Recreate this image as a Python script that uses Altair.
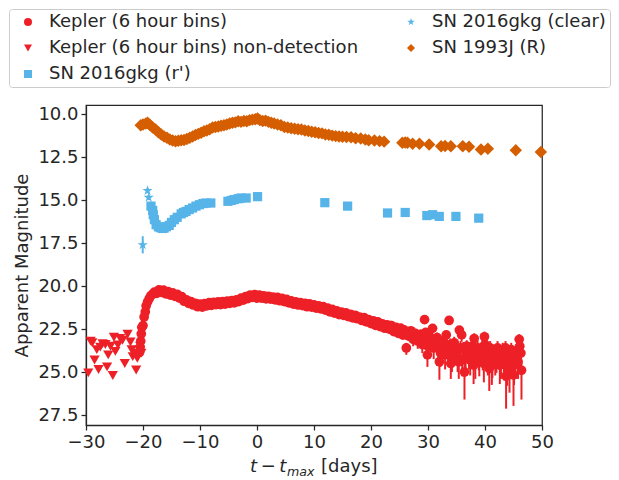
import altair as alt
import pandas as pd

# ---------------- data ----------------
# Kepler (6 hour bins) – smooth part (error bars smaller than markers)
kep_t = [-20.6, -20.5, -20.4, -20.3, -20.2, -20.0, -19.8, -19.6, -19.45, -19.2, -18.9, -18.6, -18.2, -17.8,
         -17.4, -17.0, -16.6, -16.2, -15.8, -15.4, -15.0, -14.6, -14.2, -13.8, -13.4, -13.0, -12.6, -12.2,
         -11.8, -11.4, -11.0, -10.6, -10.2, -9.8, -9.4, -9.0, -8.6, -8.2, -7.8, -7.4, -7.0, -6.6, -6.2,
         -5.8, -5.4, -5.0, -4.6, -4.2, -3.8, -3.4, -3.0, -2.6, -2.2, -1.8, -1.4, -1.0, -0.6, -0.2, 0.2,
         0.6, 1.0, 1.4, 1.8, 2.2, 2.6, 3.0, 3.4, 3.8, 4.2, 4.6, 5.0, 5.4, 5.8, 6.2, 6.6, 7.0, 7.4, 7.8,
         8.2, 8.6, 9.0, 9.4, 9.8, 10.2, 10.6, 11.0, 11.4, 11.8, 12.2, 12.6, 13.0, 13.4, 13.8, 14.2, 14.6,
         15.0, 15.4, 15.8, 16.2, 16.6, 17.0, 17.4, 17.8, 18.2, 18.6, 19.0, 19.4, 19.8, 20.2, 20.6, 21.0,
         21.4, 21.8, 22.2, 22.6, 23.0, 23.4, 23.8, 24.2, 24.6, 25.0, 25.4, 25.8]
kep_mag = [23.85, 23.55, 23.2, 22.78, 22.4, 22.3, 21.8, 21.5, 21.15, 20.92, 20.72, 20.55, 20.45, 20.38,
           20.3, 20.27, 20.3, 20.33, 20.38, 20.42, 20.45, 20.5, 20.52, 20.58, 20.66, 20.74, 20.82, 20.9,
           20.95, 21.0, 21.05, 21.08, 21.12, 21.15, 21.12, 21.08, 21.05, 21.02, 21.05, 21.0, 20.98, 21.02, 20.98,
           20.95, 20.98, 20.92, 20.9, 20.92, 20.88, 20.85, 20.8, 20.75, 20.72, 20.68, 20.62, 20.58, 20.55, 20.6, 20.62,
           20.58, 20.65, 20.63, 20.68, 20.65, 20.7, 20.72, 20.7, 20.75, 20.78, 20.8, 20.82, 20.88, 20.9, 20.95, 20.98, 21.0, 21.02, 21.05,
           21.05, 21.1, 21.12, 21.1, 21.15, 21.18, 21.2, 21.25, 21.22, 21.3, 21.32, 21.38, 21.42, 21.45, 21.5, 21.55, 21.58,
           21.6, 21.62, 21.65, 21.7, 21.72, 21.78, 21.75, 21.85, 21.9, 21.88, 21.95, 22.0, 22.05, 22.08, 22.12, 22.2,
           22.15, 22.3, 22.28, 22.35, 22.4, 22.3, 22.5, 22.45, 22.6, 22.52, 22.7, 22.55]

# Kepler (6 hour bins) – interleaved bins of the smooth part
kep2_t = [-18.0, -17.6, -17.2, -16.8, -16.4, -16.0, -15.6, -15.2, -14.8, -14.4,
          -14.0, -13.6, -13.2, -12.8, -12.4, -12.0, -11.6, -11.2, -10.8, -10.4,
          -10.0, -9.6, -9.2, -8.8, -8.4, -8.0, -7.6, -7.2, -6.8, -6.4,
          -6.0, -5.6, -5.2, -4.8, -4.4, -4.0, -3.6, -3.2, -2.8, -2.4,
          -2.0, -1.6, -1.2, -0.8, -0.4, 0.0, 0.4, 0.8, 1.2, 1.6,
          2.0, 2.4, 2.8, 3.2, 3.6, 4.0, 4.4, 4.8, 5.2, 5.6,
          6.0, 6.4, 6.8, 7.2, 7.6, 8.0, 8.4, 8.8, 9.2, 9.6,
          10.0, 10.4, 10.8, 11.2, 11.6, 12.0, 12.4, 12.8, 13.2, 13.6,
          14.0, 14.4, 14.8, 15.2, 15.6, 16.0, 16.4, 16.8, 17.2, 17.6,
          18.0, 18.4, 18.8, 19.2, 19.6, 20.0, 20.4, 20.8, 21.2, 21.6,
          22.0, 22.4, 22.8, 23.2, 23.6, 24.0, 24.4, 24.8, 25.2, 25.6]
kep2_mag = [20.35, 20.42, 20.22, 20.36, 20.24, 20.45, 20.32, 20.52, 20.40, 20.6,
            20.48, 20.7, 20.62, 20.88, 20.8, 21.0, 20.9, 21.1, 21.0, 21.2,
            21.05, 21.22, 21.02, 21.15, 20.96, 21.12, 20.95, 21.08, 20.92, 21.08,
            20.9, 21.05, 20.87, 21.0, 20.84, 20.98, 20.8, 20.9, 20.7, 20.82,
            20.62, 20.73, 20.52, 20.66, 20.5, 20.7, 20.53, 20.7, 20.57, 20.74,
            20.6, 20.76, 20.64, 20.8, 20.66, 20.85, 20.72, 20.9, 20.78, 20.98,
            20.86, 21.05, 20.92, 21.1, 20.96, 21.14, 21.0, 21.2, 21.04, 21.22,
            21.1, 21.28, 21.15, 21.32, 21.2, 21.4, 21.28, 21.5, 21.36, 21.57,
            21.45, 21.66, 21.52, 21.7, 21.56, 21.78, 21.64, 21.85, 21.7, 21.9,
            21.8, 22.0, 21.84, 22.08, 21.95, 22.18, 22.02, 22.28, 22.08, 22.36,
            22.2, 22.45, 22.25, 22.5, 22.3, 22.65, 22.4, 22.75, 22.45, 22.85]

# Kepler (6 hour bins) – late, noisy part with visible error bars
kepl_t = [26.2, 26.4, 26.8, 27.2, 27.6, 28.0, 28.4, 28.8, 29.2, 29.4, 29.8, 29.9, 30.2, 30.6, 30.8, 31.2,
          31.4, 31.7, 32.0, 32.4, 32.8, 33.2, 33.5, 33.7, 34.0, 34.4, 34.8, 35.2, 35.5, 35.9, 36.2, 36.4,
          36.6, 37.0, 37.4, 37.8, 38.0, 38.1, 38.5, 38.9, 39.2, 39.6, 39.9, 40.2, 40.5, 40.75, 41.0, 41.3,
          41.6, 42.0, 42.3, 42.6, 43.1, 43.4, 43.7, 44.0, 44.3, 44.6, 45.0, 45.3, 45.6, 46.0, 46.3, 46.4,
          26.6, 27.0, 27.4, 27.8, 28.2, 28.6, 29.0, 29.6, 30.0, 30.4,
          31.0, 31.6, 32.2, 32.6, 33.0, 33.9, 34.2, 34.6, 35.0, 35.4,
          35.7, 36.0, 36.8, 37.2, 37.6, 38.3, 38.7, 39.0, 39.4, 39.8,
          40.0, 40.4, 40.9, 41.2, 41.5, 41.8, 42.2, 42.5, 42.8, 43.0,
          43.3, 43.6, 43.9, 44.2, 44.5, 44.8, 45.1, 45.4, 45.8, 46.1]
kepl_mag = [23.6, 22.65, 22.8, 22.7, 23.0, 22.85, 22.95, 22.8, 23.1, 21.95, 23.05, 24.0, 22.9, 23.2, 22.46, 23.3,
            23.05, 23.45, 24.4, 23.6, 23.3, 22.84, 23.8, 22.0, 24.5, 23.5, 23.9, 24.2, 22.56, 22.84, 23.6, 25.0,
            24.2, 23.8, 24.3, 23.5, 24.6, 23.05, 23.9, 24.1, 23.7, 24.1, 22.95, 23.6, 24.3, 24.8, 23.9, 24.4,
            23.9, 24.2, 23.8, 24.6, 23.7, 24.5, 25.23, 24.0, 24.8, 23.7, 25.17, 24.3, 23.9, 23.1, 23.9, 24.9,
            22.9, 22.6, 23.1, 22.75, 23.2, 22.9, 23.4, 22.7, 23.5, 23.1,
            23.6, 23.0, 23.9, 23.2, 24.0, 23.4, 24.1, 23.3, 23.8, 24.4,
            23.6, 24.3, 23.5, 24.0, 23.7, 24.4, 23.6, 24.3, 23.9, 24.5,
            23.4, 24.0, 23.6, 24.6, 23.8, 24.3, 23.6, 24.0, 24.4, 23.9,
            24.2, 23.6, 24.6, 23.9, 24.3, 24.0, 24.6, 23.8, 24.4, 23.5]
kepl_eup = [0.3, 0.15, 0.2, 0.2, 0.25, 0.2, 0.25, 0.2, 0.3, 0.15, 0.3, 0.4, 0.25, 0.3, 0.2, 0.3,
            0.3, 0.35, 0.5, 0.35, 0.3, 0.25, 0.4, 0.2, 0.5, 0.35, 0.4, 0.45, 0.2, 0.25, 0.35, 0.6,
            0.45, 0.4, 0.45, 0.35, 0.5, 0.3, 0.4, 0.45, 0.4, 0.45, 0.3, 0.35, 0.45, 0.55, 0.4, 0.5,
            0.4, 0.45, 0.4, 0.5, 0.4, 0.5, 0.6, 0.45, 0.55, 0.4, 0.6, 0.45, 0.4, 0.3, 0.4, 0.55,
            0.2, 0.2, 0.25, 0.2, 0.3, 0.25, 0.3, 0.2, 0.35, 0.3,
            0.35, 0.3, 0.4, 0.3, 0.45, 0.35, 0.45, 0.35, 0.4, 0.5,
            0.4, 0.45, 0.35, 0.45, 0.4, 0.5, 0.4, 0.45, 0.4, 0.5,
            0.35, 0.45, 0.4, 0.5, 0.4, 0.45, 0.4, 0.45, 0.5, 0.4,
            0.45, 0.4, 0.5, 0.4, 0.45, 0.45, 0.5, 0.4, 0.5, 0.35]
kepl_edn = [0.4, 0.2, 0.25, 0.3, 0.35, 0.3, 0.4, 0.3, 0.45, 0.2, 0.4, 0.7, 0.35, 0.5, 0.3, 0.5,
            0.45, 0.6, 1.05, 0.6, 0.5, 0.4, 0.7, 0.25, 0.9, 0.6, 0.7, 0.8, 0.35, 0.4, 0.6, 1.6,
            0.8, 0.7, 0.9, 0.6, 1.1, 0.45, 0.7, 0.8, 0.65, 0.8, 0.4, 0.6, 0.9, 1.3, 0.7, 0.95,
            0.7, 0.85, 0.7, 1.1, 0.65, 1.0, 1.9, 0.8, 1.4, 0.65, 1.8, 0.9, 0.7, 0.5, 0.7, 1.7,
            0.3, 0.25, 0.4, 0.3, 0.45, 0.35, 0.5, 0.3, 0.6, 0.45,
            0.65, 0.45, 0.8, 0.5, 0.85, 0.6, 0.9, 0.55, 0.7, 1.0,
            0.65, 0.95, 0.6, 0.85, 0.7, 1.0, 0.65, 0.95, 0.75, 1.1,
            0.6, 0.85, 0.65, 1.15, 0.7, 0.9, 0.65, 0.85, 1.0, 0.75,
            0.9, 0.65, 1.2, 0.75, 0.95, 0.8, 1.15, 0.7, 1.0, 0.6]

# Kepler non-detections (upper limits)
nd_t = [-29.6, -29.2, -28.9, -28.5, -28.1, -27.8, -27.5, -27.1, -26.6, -26.3, -26.1, -25.7, -25.3, -25.1,
        -24.85, -24.4, -24.0, -23.6, -23.2, -22.7, -22.2, -22.0, -21.8, -21.5, -21.2, -21.0, -20.8, -20.6,
        -20.5, -20.3]
nd_mag = [25.05, 23.2, 23.3, 24.3, 23.7, 24.85, 23.55, 23.35, 23.4, 24.7, 24.0, 23.5, 25.2, 22.98,
          23.8, 23.43, 23.05, 23.15, 24.5, 22.8, 23.25, 23.7, 24.1, 23.9, 24.88, 24.2, 24.0, 23.7,
          23.5, 23.9]

# SN 2016gkg (r')
r_t = [-18.6, -18.3, -18.2, -18.0, -17.7, -17.3, -17.0, -16.6, -16.3, -15.9, -15.4, -15.0, -14.5, -14.0,
       -13.3, -12.9, -12.45, -11.9, -11.3, -10.7, -10.1, -9.5, -8.95, -8.1, -5.1, -4.5, -4.0, -3.3, -2.8,
       -1.9, 0.1, 11.9, 15.9, 22.9, 26.0, 29.8, 30.8, 31.98, 34.9, 38.9]
r_mag = [15.35, 15.6, 15.85, 16.14, 16.43, 16.55, 16.6, 16.65, 16.63, 16.55, 16.47, 16.3, 16.14, 16.0,
         15.8, 15.72, 15.66, 15.55, 15.46, 15.35, 15.27, 15.2, 15.17, 15.17, 15.07, 15.02, 14.97, 14.92, 14.88,
         14.88, 14.8, 15.15, 15.35, 15.75, 15.72, 15.9, 15.85, 15.95, 15.95, 16.05]
r_err = [0.25, 0.15, 0.1, 0.1, 0.08, 0.08, 0.08, 0.08, 0.08, 0.08, 0.08, 0.08, 0.08, 0.08,
         0.08, 0.08, 0.08, 0.08, 0.08, 0.08, 0.08, 0.08, 0.08, 0.08, 0.08, 0.08, 0.08, 0.08, 0.08,
         0.08, 0.08, 0.08, 0.08, 0.08, 0.08, 0.08, 0.08, 0.08, 0.08, 0.1]

# SN 2016gkg (clear)
c_t = [-20.05, -19.2, -19.0]
c_mag = [17.6, 14.45, 14.85]
c_err = [0.5, 0.15, 0.15]

# SN 1993J (R)
j_t = [-20.4, -20.0, -19.5, -19.2, -18.8, -18.3, -17.8, -17.3, -16.8, -16.3, -15.8, -15.3, -14.8, -14.3,
       -13.8, -13.3, -12.8, -12.3, -11.8, -11.3, -10.8, -10.3, -9.8, -9.3, -8.8, -8.3, -7.8, -7.3, -6.8,
       -6.3, -5.8, -5.3, -4.8, -4.3, -3.8, -3.3, -2.8, -2.3, -1.8, -1.3, -0.8, -0.3, 0.1, 0.5, 1.0, 1.5,
       2.0, 2.5, 3.0, 3.6, 4.2, 4.8, 5.4, 6.0, 6.6, 7.2, 7.8, 8.4, 9.0, 9.6, 10.2, 10.8, 11.4, 12.0, 12.6,
       13.2, 13.8, 14.4, 15.0, 15.7, 16.5, 17.3, 18.2, 19.0, 19.6, 20.6, 21.5, 22.3, 25.5, 26.0, 26.4,
       27.3, 28.5, 30.2, 32.3, 33.0, 34.0, 36.1, 37.2, 39.3, 40.5, 45.4, 49.8]
j_mag = [10.65, 10.6, 10.55, 10.5, 10.62, 10.78, 10.9, 11.05, 11.18, 11.3, 11.38, 11.48, 11.53, 11.58,
         11.55, 11.52, 11.5, 11.45, 11.38, 11.3, 11.22, 11.15, 11.08, 11.0, 10.95, 10.88, 10.78, 10.75, 10.72,
         10.68, 10.65, 10.6, 10.55, 10.5, 10.48, 10.42, 10.45, 10.4, 10.42, 10.35, 10.32, 10.3, 10.25, 10.35, 10.4, 10.38,
         10.45, 10.5, 10.55, 10.6, 10.65, 10.75, 10.78, 10.82, 10.85, 10.88, 10.9, 10.95, 10.98, 11.02, 11.05, 11.1, 11.12, 11.18, 11.2,
         11.25, 11.28, 11.3, 11.32, 11.33, 11.34, 11.4, 11.42, 11.48, 11.52, 11.53, 11.57, 11.6, 11.67, 11.65, 11.67,
         11.72, 11.72, 11.77, 11.87, 11.85, 11.87, 11.87, 11.9, 12.06, 12.02, 12.1, 12.2]

x_ticks = [-30, -20, -10, 0, 10, 20, 30, 40, 50]
y_ticks = [10.0, 12.5, 15.0, 17.5, 20.0, 22.5, 25.0, 27.5]

# ---------------- styling ----------------
KEP, ND, RP, CLR, J93 = ("Kepler (6 hour bins)", "Kepler (6 hour bins) non-detection",
                         "SN 2016gkg (r')", "SN 2016gkg (clear)", "SN 1993J (R)")
series_order = [KEP, ND, RP, CLR, J93]
RED, BLUE, ORANGE = "#EE2027", "#56B4E9", "#D55E00"
STAR = ("M0,-1L0.2245,-0.309L0.951,-0.309L0.363,0.118L0.588,0.809L0,0.382"
        "L-0.588,0.809L-0.363,0.118L-0.951,-0.309L-0.2245,-0.309Z")
series_colors = [RED, RED, BLUE, BLUE, ORANGE]
series_shapes = ["circle", "triangle-down", "square", STAR, "diamond"]
INK = "#262626"
FONT = "DejaVu Sans"

# ---------------- tables ----------------
kep_df = pd.DataFrame({"t": kep_t + kep2_t + kepl_t, "mag": kep_mag + kep2_mag + kepl_mag, "series": KEP})
nd_df = pd.DataFrame({"t": nd_t, "mag": nd_mag, "series": ND})
r_df = pd.DataFrame({"t": r_t, "mag": r_mag, "series": RP})
c_df = pd.DataFrame({"t": c_t, "mag": c_mag, "series": CLR})
j_df = pd.DataFrame({"t": j_t, "mag": j_mag, "series": J93})

err_rows = []
for t, m, u, d in zip(kepl_t, kepl_mag, kepl_eup, kepl_edn):
    err_rows.append((t, m - u, m + d, RED))
for t, m, e in zip(r_t, r_mag, r_err):
    err_rows.append((t, m - e, m + e, BLUE))
for t, m, e in zip(c_t, c_mag, c_err):
    err_rows.append((t, m - e, m + e, BLUE))
errs = pd.DataFrame(err_rows, columns=["t", "lo", "hi", "col"])

xscale = alt.Scale(domain=[-30, 50], nice=False, zero=False)
yscale = alt.Scale(domain=[9.47, 28.08], nice=False, zero=False, reverse=True)

legend = alt.Legend(
    orient="none", legendX=-77, legendY=-96, columns=2, title=None,
    labelFontSize=18, labelFont=FONT, labelColor=INK, labelLimit=600,
    symbolSize=64, symbolStrokeWidth=0, symbolOffset=6, labelOffset=12,
    padding=4, rowPadding=8, columnPadding=37,
    strokeColor="#cccccc", fillColor="white", cornerRadius=3,
)

xaxis = alt.Axis(values=x_ticks, title=None, format="d", labelFlush=False, labelOverlap=False)
yaxis = alt.Axis(values=y_ticks, format=".1f", title="Apparent Magnitude", titlePadding=6,
                 labelOverlap=False)

errbars = alt.Chart(errs).mark_rule(strokeWidth=2).encode(
    x=alt.X("t:Q", scale=xscale, axis=xaxis),
    y=alt.Y("lo:Q", scale=yscale, axis=yaxis),
    y2="hi:Q",
    color=alt.Color("col:N", scale=None),
)

color_enc = alt.Color("series:N", scale=alt.Scale(domain=series_order, range=series_colors), legend=legend)
shape_enc = alt.Shape("series:N", scale=alt.Scale(domain=series_order, range=series_shapes), legend=legend)


def point_layer(df, size):
    return alt.Chart(df).mark_point(filled=True, opacity=1, strokeWidth=0, size=size).encode(
        x=alt.X("t:Q", scale=xscale, axis=xaxis),
        y=alt.Y("mag:Q", scale=yscale, axis=yaxis),
        color=color_enc,
        shape=shape_enc,
    )


kep_layer = point_layer(kep_df, 95)
nd_layer = point_layer(nd_df, 105)
r_layer = point_layer(r_df, 85)
c_layer = point_layer(c_df, 115)
j_layer = point_layer(j_df, 155)

one = pd.DataFrame({"k": [0]})
xt1 = alt.Chart(one).mark_text(text="t\u2009\u2212\u2009t", font=FONT, fontSize=18, fontStyle="italic",
                               align="left", baseline="alphabetic", color=INK).encode(
    x=alt.value(164), y=alt.value(367))
xt2 = alt.Chart(one).mark_text(text="max", font=FONT, fontSize=12.6, fontStyle="italic",
                               align="left", baseline="alphabetic", color=INK).encode(
    x=alt.value(201), y=alt.value(371))
xt3 = alt.Chart(one).mark_text(text="[days]", font=FONT, fontSize=18,
                               align="left", baseline="alphabetic", color=INK).encode(
    x=alt.value(235), y=alt.value(367))

chart = alt.layer(errbars, kep_layer, nd_layer, r_layer, c_layer, j_layer, xt1, xt2, xt3).properties(
    width=456, height=320, padding=0,
).configure_view(
    stroke=INK, strokeWidth=1.25,
).configure_axis(
    grid=False, domainColor=INK, domainWidth=1.25, tickColor=INK, tickWidth=1.25, tickSize=5,
    labelFont=FONT, labelFontSize=18, labelColor=INK, labelPadding=3,
    titleFont=FONT, titleFontSize=18, titleColor=INK, titleFontWeight="normal",
)

chart.save("out.html", embed_options={"renderer": "svg", "actions": False})
